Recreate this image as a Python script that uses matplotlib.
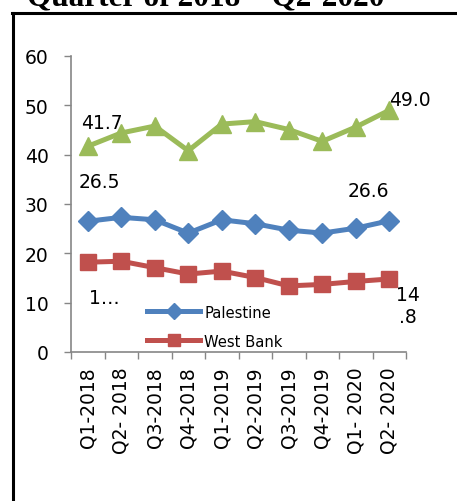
import matplotlib
matplotlib.use("Agg")
import matplotlib.pyplot as plt
from matplotlib.lines import Line2D

plt.rcParams['font.family'] = ['DejaVu Sans']

quarters = ['Q1-2018', 'Q2- 2018', 'Q3-2018', 'Q4-2018', 'Q1-2019',
            'Q2-2019', 'Q3-2019', 'Q4-2019', 'Q1- 2020', 'Q2- 2020']
gaza = [41.7, 44.4, 45.8, 40.8, 46.2, 46.7, 45.1, 42.7, 45.6, 49.0]
palestine = [26.5, 27.3, 26.8, 24.1, 26.8, 26.0, 24.7, 24.1, 25.1, 26.6]
west_bank = [18.2, 18.4, 17.1, 15.8, 16.4, 15.1, 13.4, 13.7, 14.3, 14.8]

fig = plt.figure(figsize=(4.57, 5.02), dpi=100)
ax = fig.add_axes([71 / 457, 1 - 353 / 502, 335 / 457, 296 / 502])

x = range(len(quarters))
ax.plot(x, gaza, color='#9BBB59', lw=3.6, marker='^', ms=13, label='Gaza Strip')
l1, = ax.plot(x, palestine, color='#4F81BD', lw=3.6, marker='D', ms=10, label='Palestine')
l2, = ax.plot(x, west_bank, color='#C0504D', lw=3.6, marker='s', ms=11, label='West Bank')

# data labels (first and last of each series)
def lab(txt, xi, yi, dx, dy):
    ax.annotate(txt, (xi, yi), xytext=(dx * 0.72, -dy * 0.72), textcoords='offset points',
                ha='center', va='center', fontsize=13.5)

lab('41.7', 0, gaza[0], 14, -24)
lab('49.0', 9, gaza[9], 21, -11)
lab('26.5', 0, palestine[0], 12, -40)
lab('26.6', 9, palestine[9], -21, -30)
lab('1…', 0, west_bank[0], 17, 35)
lab('14\n.8', 9, west_bank[9], 19, 27)

ax.set_xlim(-0.5, 9.5)
ax.set_ylim(0, 60)
ax.set_yticks(range(0, 61, 10))
ax.set_xticks(list(x))
ax.set_xticklabels(quarters, rotation=90)
ax.set_xticks([i - 0.5 for i in range(11)], minor=True)
ax.tick_params(axis='x', which='major', length=0, pad=10, labelsize=13.5)
ax.tick_params(axis='x', which='minor', length=5, width=1, color='#868686')
ax.tick_params(axis='y', length=5, width=1, color='#868686', pad=11, labelsize=13.5)
for s in ['top', 'right']:
    ax.spines[s].set_visible(False)
for s in ['left', 'bottom']:
    ax.spines[s].set_color('#868686')
    ax.spines[s].set_linewidth(1.2)

leg = ax.legend(handles=[l1, l2], loc='center left', bbox_to_anchor=(0.227, 0.086),
                frameon=False, fontsize=10.6, handlelength=3.6, handletextpad=0.3,
                labelspacing=0.95, borderpad=0, borderaxespad=0, markerscale=0.8)

# outer frame (only left and top visible)
fig.add_artist(Line2D([13 / 457, 13 / 457], [0, 1 - 14 / 502], color='black', lw=2.2))
fig.add_artist(Line2D([12 / 457, 1], [1 - 14 / 502, 1 - 14 / 502], color='black', lw=2.2))

fig.text(27 / 457, 1 - 5 / 502, 'Quarter of 2018 – Q2-2020', fontsize=22.5,
         fontweight='bold', family='Liberation Serif', ha='left', va='baseline')

fig.savefig('out.png', dpi=100)
